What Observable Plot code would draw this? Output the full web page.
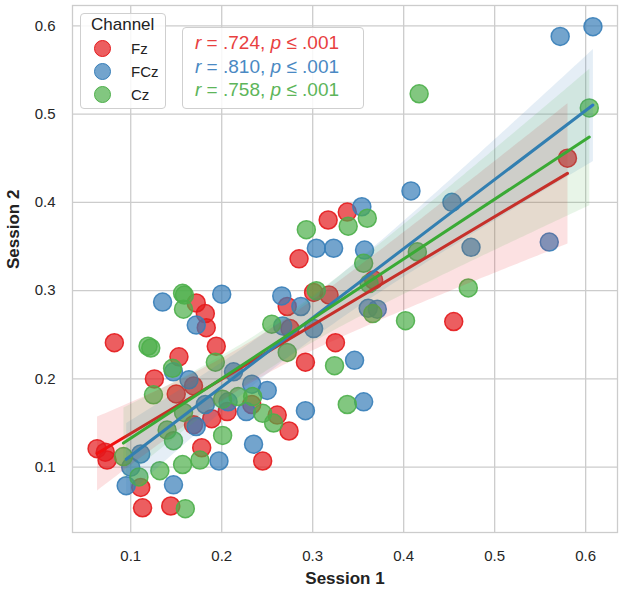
<!DOCTYPE html>
<html>
<head>
<meta charset="utf-8">
<script src="https://cdn.jsdelivr.net/npm/d3@7"></script>
<script src="https://cdn.jsdelivr.net/npm/@observablehq/plot@0.6"></script>
<style>
  body { margin: 0; background: #fff; font-family: "Liberation Sans", Arial, sans-serif; }
  #wrap { position: relative; width: 624px; height: 593px; }
  .box { position: absolute; border: 1px solid #cfcfcf; border-radius: 4px; background: rgba(255,255,255,0.85); box-sizing: border-box; }
  .legend-title { position: absolute; font-size: 17px; color: #222; line-height: 20px; }
  .legend-item { position: absolute; font-size: 15px; color: #222; display: flex; align-items: center; line-height: 17px; }
  .sw { width: 17px; height: 17px; border-radius: 50%; box-sizing: border-box; border: 1.5px solid; margin-right: 20px; }
  .ann { position: absolute; font-size: 19px; white-space: nowrap; line-height: 22px; }
  .ann i { font-style: italic; }
</style>
</head>
<body>
<div id="wrap"></div>
<script>
const channels = ["Fz", "FCz", "Cz"];
const pointColors = ["#e41a1c", "#377eb8", "#4daf4a"];
const lineColors = ["#f01010", "#2f78c0", "#3aaa35"];
const xTicks = [0.1, 0.2, 0.3, 0.4, 0.5, 0.6];
const yTicks = [0.1, 0.2, 0.3, 0.4, 0.5, 0.6];
const stats = [".724", ".810", ".758"];

// Fz (Session 1, Session 2)
const fzX = [0.063,0.072,0.074,0.082,0.111,0.113,0.126,0.144,0.150,0.153,0.169,0.169,0.172,0.182,0.183,0.178,0.189,0.194,0.206,0.233,0.245,0.261,0.274,0.272,0.275,0.285,0.292,0.301,0.318,0.317,0.325,0.338,0.367,0.455,0.580];
const fzY = [0.121,0.117,0.108,0.241,0.077,0.054,0.200,0.056,0.183,0.225,0.192,0.148,0.286,0.274,0.258,0.122,0.155,0.237,0.163,0.171,0.107,0.159,0.141,0.282,0.257,0.336,0.219,0.298,0.295,0.380,0.241,0.389,0.312,0.265,0.450];
// FCz
const fczX = [0.095,0.100,0.111,0.135,0.147,0.147,0.164,0.172,0.172,0.182,0.197,0.200,0.213,0.207,0.227,0.233,0.235,0.250,0.266,0.267,0.287,0.292,0.301,0.304,0.323,0.346,0.354,0.357,0.356,0.361,0.371,0.408,0.453,0.474,0.560,0.572,0.608];
const fczY = [0.079,0.100,0.115,0.287,0.208,0.080,0.199,0.261,0.146,0.171,0.107,0.296,0.208,0.174,0.163,0.194,0.126,0.187,0.294,0.260,0.282,0.164,0.257,0.348,0.348,0.221,0.395,0.346,0.174,0.280,0.279,0.413,0.400,0.349,0.355,0.588,0.599];
// Cz
const czX = [0.092,0.109,0.119,0.122,0.132,0.125,0.140,0.146,0.147,0.157,0.159,0.158,0.158,0.157,0.160,0.176,0.193,0.201,0.201,0.218,0.234,0.245,0.257,0.255,0.272,0.293,0.304,0.324,0.339,0.338,0.356,0.360,0.362,0.366,0.402,0.415,0.417,0.471,0.604];
const czY = [0.112,0.089,0.237,0.235,0.096,0.182,0.142,0.212,0.130,0.297,0.295,0.279,0.162,0.103,0.053,0.108,0.219,0.177,0.136,0.180,0.180,0.161,0.150,0.262,0.230,0.369,0.300,0.215,0.373,0.171,0.331,0.382,0.308,0.274,0.266,0.344,0.523,0.303,0.507];

const series = [[fzX, fzY], [fczX, fczY], [czX, czY]];
const data = series.flatMap(([xs, ys], i) => xs.map((x, j) => ({channel: channels[i], s1: x, s2: ys[j]})));

const regMarks = channels.map((c, i) => Plot.linearRegressionY(data.filter(d => d.channel === c), {
  x: "s1", y: "s2", stroke: lineColors[i], fill: pointColors[i], fillOpacity: 0.13, strokeWidth: 3, ci: 0.95
}));

const chart = Plot.plot({
  width: 624, height: 593,
  marginLeft: 72, marginRight: 7, marginTop: 5, marginBottom: 61,
  style: {fontFamily: "'Liberation Sans', Arial, sans-serif", fontSize: "15px", color: "#262626", background: "white"},
  x: {domain: [0.036, 0.635]},
  y: {domain: [0.026, 0.623]},
  color: {domain: channels, range: pointColors},
  marks: [
    Plot.gridX(xTicks, {stroke: "#cccccc", strokeOpacity: 1, strokeWidth: 1.3}),
    Plot.gridY(yTicks, {stroke: "#cccccc", strokeOpacity: 1, strokeWidth: 1.3}),
    Plot.frame({stroke: "#cccccc", strokeWidth: 1.3}),
    Plot.axisX(xTicks, {tickSize: 0, tickPadding: 18, tickFormat: d3.format(".1f"), fontSize: 15, label: null}),
    Plot.axisY(yTicks, {tickSize: 0, tickPadding: 17, tickFormat: d3.format(".1f"), fontSize: 15, label: null}),
    Plot.text(["Session 1"], {frameAnchor: "bottom", dy: 51, fontWeight: "bold", fontSize: 17, fill: "#222"}),
    Plot.text(["Session 2"], {frameAnchor: "left", dx: -59, rotate: -90, fontWeight: "bold", fontSize: 17, fill: "#222"}),
    Plot.dot(data, {x: "s1", y: "s2", fill: "channel", stroke: "channel", fillOpacity: 0.7, strokeOpacity: 0.9, strokeWidth: 1.5, r: 9}),
    ...regMarks
  ]
});

const wrap = document.getElementById("wrap");
wrap.appendChild(chart);

// Legend
const lg = document.createElement("div");
lg.className = "box";
Object.assign(lg.style, {left: "80px", top: "13px", width: "86px", height: "96px"});
wrap.appendChild(lg);
const lt = document.createElement("div");
lt.className = "legend-title";
lt.textContent = "Channel";
Object.assign(lt.style, {left: "91px", top: "15px"});
wrap.appendChild(lt);
channels.forEach((c, i) => {
  const it = document.createElement("div");
  it.className = "legend-item";
  Object.assign(it.style, {left: "94px", top: (40 + i * 23) + "px"});
  const sw = document.createElement("span");
  sw.className = "sw";
  sw.style.background = d3.color(pointColors[i]).copy({opacity: 0.7}).toString();
  sw.style.borderColor = pointColors[i];
  it.appendChild(sw);
  const tx = document.createElement("span");
  tx.textContent = c;
  it.appendChild(tx);
  wrap.appendChild(it);
});

// Correlation annotation
const ab = document.createElement("div");
ab.className = "box";
Object.assign(ab.style, {left: "182px", top: "27px", width: "182px", height: "82px"});
wrap.appendChild(ab);
const annColors = ["#e8403f", "#4a89c3", "#5db55a"];
stats.forEach((r, i) => {
  const a = document.createElement("div");
  a.className = "ann";
  a.style.color = annColors[i];
  Object.assign(a.style, {left: "195px", top: (32 + i * 23.5) + "px"});
  a.innerHTML = `<i>r</i> = ${r}, <i>p</i> ≤ .001`;
  wrap.appendChild(a);
});
</script>
</body>
</html>
